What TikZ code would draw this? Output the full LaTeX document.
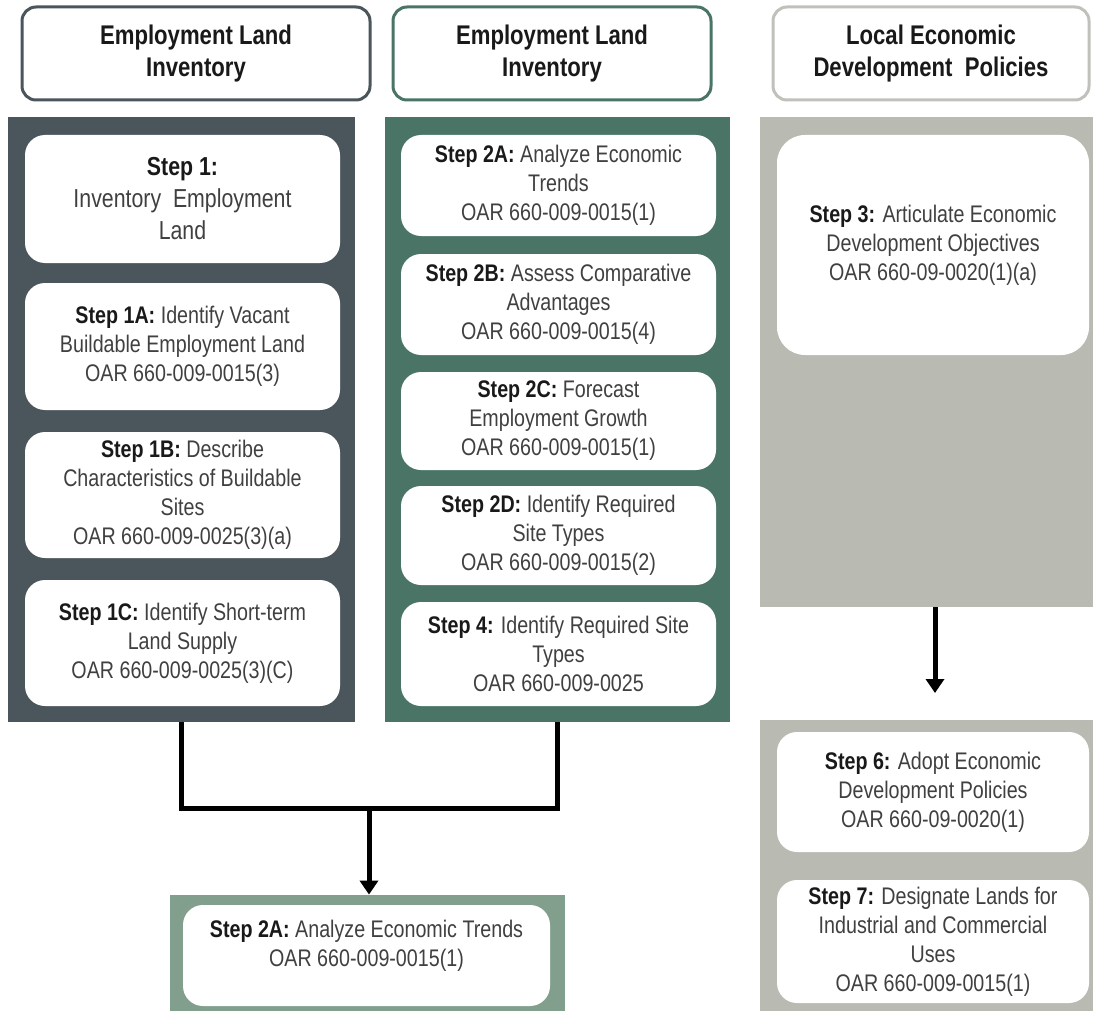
\documentclass[tikz,border=0pt]{standalone}
\usepackage{fontspec}
\setmainfont{Liberation Sans}[FakeStretch=0.82]
\usetikzlibrary{arrows.meta}
\definecolor{slate}{RGB}{75,86,92}
\definecolor{pine}{RGB}{74,117,102}
\definecolor{stone}{RGB}{185,186,178}
\definecolor{rimgray}{RGB}{192,193,186}
\definecolor{sage}{RGB}{130,158,140}
\definecolor{inkgray}{RGB}{64,64,64}
\newcommand{\stp}[1]{{\color{black!90}\bfseries #1}}

\begin{document}
\begin{tikzpicture}[x=1pt,y=-1pt,
  header/.style={draw=#1,line width=1.5pt,rounded corners=7pt,fill=white,align=center,text=black!90,
    font=\bfseries\fontsize{13.5}{16}\selectfont,minimum height=46.5pt,inner sep=0pt},
  panel/.style={fill=#1,inner sep=0pt},
  stepbox/.style={fill=white,rounded corners=10pt,align=center,text=inkgray,
    font=\fontsize{12}{14.5}\selectfont,inner sep=0pt,minimum width=157.5pt},
  flow/.style={line width=2.5pt,-{Triangle[width=9pt,length=7pt]}}]
\useasboundingbox (0,0) rectangle (546.5,505.5);
\node [header=slate,minimum width=174pt] (h1) at (98,26.75) {Employment Land\\Inventory};
\node [header=pine,minimum width=159pt] (h2) at (276,26.75) {Employment Land\\Inventory};
\node [header=rimgray,minimum width=158pt] (h3) at (465.5,26.75) {Local Economic\\Development~~Policies};
\node [panel=slate,minimum width=173.5pt,minimum height=302.5pt] (p1) at (90.75,209.75) {};
\node [panel=pine,minimum width=172.5pt,minimum height=302.5pt] (p2) at (278.75,209.75) {};
\node [panel=stone,minimum width=166.5pt,minimum height=245pt] (p3) at (463.25,181) {};
\node [panel=stone,minimum width=166.5pt,minimum height=145.5pt] (p4) at (463.25,432.75) {};
\node [panel=sage,minimum width=197.5pt,minimum height=58pt] (p5) at (183.75,476.5) {};
\node [stepbox,minimum height=64pt,font=\fontsize{13}{16}\selectfont] (s1) at (91.25,99.5)
  {\stp{Step 1:}\\Inventory~~Employment\\Land};
\node [stepbox,minimum height=63.5pt] (s1a) at (91.25,173.25)
  {\stp{Step 1A:} Identify Vacant\\Buildable Employment Land\\OAR 660-009-0015(3)};
\node [stepbox,minimum height=63pt] (s1b) at (91.25,247.5)
  {\stp{Step 1B:} Describe\\Characteristics of Buildable\\Sites\\OAR 660-009-0025(3)(a)};
\node [stepbox,minimum height=63pt] (s1c) at (91.25,321.5)
  {\stp{Step 1C:} Identify Short-term\\Land Supply\\OAR 660-009-0025(3)(C)};
\node [stepbox,minimum height=50.5pt] (s2a) at (279.25,92.75)
  {\stp{Step 2A:} Analyze Economic\\Trends\\OAR 660-009-0015(1)};
\node [stepbox,minimum height=50.5pt] (s2b) at (279.25,152.25)
  {\stp{Step 2B:} Assess Comparative\\Advantages\\OAR 660-009-0015(4)};
\node [stepbox,minimum height=49pt] (s2c) at (279.25,210.5)
  {\stp{Step 2C:} Forecast\\Employment Growth\\OAR 660-009-0015(1)};
\node [stepbox,minimum height=49.5pt] (s2d) at (279.25,267.75)
  {\stp{Step 2D:} Identify Required\\Site Types\\OAR 660-009-0015(2)};
\node [stepbox,minimum height=52pt] (s4) at (279.25,327)
  {\stp{Step 4:} Identify Required Site\\Types\\OAR 660-009-0025};
\node [stepbox,minimum width=156pt,minimum height=110pt,rounded corners=14pt] (s3) at (466.5,122.5)
  {\stp{Step 3:} Articulate Economic\\Development Objectives\\OAR 660-09-0020(1)(a)};
\node [stepbox,minimum width=156pt,minimum height=60pt] (s6) at (466.5,396)
  {\stp{Step 6:} Adopt Economic\\Development Policies\\OAR 660-09-0020(1)};
\node [stepbox,minimum width=156pt,minimum height=61.5pt] (s7) at (466.5,470.75)
  {\stp{Step 7:} Designate Lands for\\Industrial and Commercial\\Uses\\OAR 660-009-0015(1)};
\node [stepbox,minimum width=183.5pt,minimum height=50.5pt] (result) at (183.25,477.75)
  {\stp{Step 2A:} Analyze Economic Trends\\OAR 660-009-0015(1)\\[-2pt]\mbox{}};
\coordinate (join) at (184.5,404);
\coordinate (tip) at (467.5,346.5);
\draw [line width=2.5pt] (p1.south) |- (join) -| (p2.south);
\draw [flow] (join) -- (join |- p5.north);
\draw [flow] (p3.south -| tip) -- (tip);
\end{tikzpicture}
\end{document}
